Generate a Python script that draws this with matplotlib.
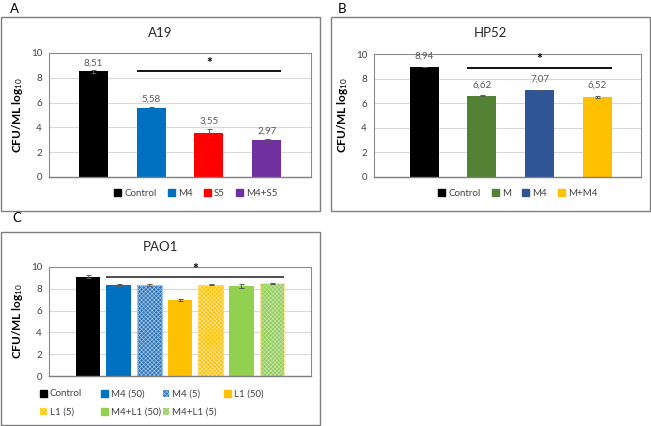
import matplotlib
matplotlib.use('Agg')
import matplotlib.pyplot as plt
from matplotlib.patches import Rectangle, Patch

plt.rcParams['font.family'] = ['Lato', 'DejaVu Sans']
plt.rcParams['mathtext.fontset'] = 'custom'
plt.rcParams['mathtext.rm'] = 'Lato'
plt.rcParams['mathtext.it'] = 'Lato:italic'
plt.rcParams['mathtext.bf'] = 'Lato:bold'
plt.rcParams['hatch.linewidth'] = 0.5

# Panel A - A19
a_labels = ['Control', 'M4', 'S5', 'M4+S5']
a_values = [8.51, 5.58, 3.55, 2.97]
a_errors = [0.10, 0.08, 0.35, 0.12]
a_colors = ['#000000', '#0070C0', '#FF0000', '#7030A0']

# Panel B - HP52
b_labels = ['Control', 'M', 'M4', 'M+M4']
b_values = [8.94, 6.62, 7.07, 6.52]
b_errors = [0.03, 0.06, 0.03, 0.10]
b_colors = ['#000000', '#548235', '#2F5597', '#FFC000']

# Panel C - PAO1
c_labels = ['Control', 'M4 (50)', 'M4 (5)', 'L1 (50)', 'L1 (5)', 'M4+L1 (50)', 'M4+L1 (5)']
c_values = [9.10, 8.38, 8.38, 6.99, 8.38, 8.25, 8.50]
c_errors = [0.15, 0.08, 0.10, 0.07, 0.03, 0.20, 0.05]
c_colors = ['#000000', '#0070C0', '#2E75B6', '#FFC000', '#FFC000', '#92D050', '#92D050']
c_hatch = [None, None, 'xxxxxxxx', None, 'xxxxxxxx', None, 'xxxxxxxx']
c_hatchcol = [None, None, '#9DC3E6', None, '#FFE699', None, '#C5E0B4']
c_border = [None, None, '#9DC3E6', None, '#FFD966', None, '#FFE699']

W, H = 651, 426
fig = plt.figure(figsize=(W / 100, H / 100), dpi=100)


def px_axes(x0, y0, x1, y1):
    return fig.add_axes([x0 / W, 1 - y1 / H, (x1 - x0) / W, (y1 - y0) / H])


def box(x0, y0, x1, y1):
    fig.patches.append(Rectangle((x0 / W, 1 - y1 / H), (x1 - x0) / W, (y1 - y0) / H,
                                 transform=fig.transFigure, fill=False,
                                 edgecolor='#7f7f7f', lw=1.0))


def style(ax):
    ax.set_ylim(0, 10)
    ax.set_yticks(range(0, 11, 2))
    ax.set_xticks([])
    ax.tick_params(axis='y', length=0, labelsize=7, labelcolor='#404040', pad=5)
    ax.grid(axis='y', color='#d9d9d9', lw=0.8)
    ax.set_axisbelow(True)
    for s in ['top', 'left', 'right']:
        ax.spines[s].set_color('#8c8c8c')
        ax.spines[s].set_linewidth(0.8)
    ax.spines['bottom'].set_color('#7f7f7f')
    ax.spines['bottom'].set_linewidth(1.0)
    ax.set_ylabel('CFU/ML log$_{10}$', fontsize=8.5, fontweight='bold', labelpad=4)


def bracket(ax, x0, x1, y, color='black'):
    ax.plot([x0, x1], [y, y], color=color, lw=1.3, solid_capstyle='butt')
    ax.text((x0 + x1) / 2, y + 0.2, '*', ha='center', va='bottom', fontsize=10,
            fontweight='bold')


def legend_item(handle, label, x, y):
    fig.legend([handle], [label], loc='center left',
               bbox_to_anchor=(x / W, 1 - y / H), bbox_transform=fig.transFigure,
               frameon=False, fontsize=7, handlelength=0.7, handleheight=0.7,
               handletextpad=0.3, borderaxespad=0, borderpad=0,
               labelcolor='#404040')


# ---- A ----
box(1, 17, 320, 211)
fig.text(10 / W, 1 - 9 / H, 'A', fontsize=9.5, va='center')
axA = px_axes(49, 53, 311, 177)
xa = list(range(len(a_values)))
axA.bar(xa, a_values, width=0.5, color=a_colors, yerr=a_errors, capsize=1.8,
        error_kw=dict(ecolor='#595959', elinewidth=0.7, capthick=0.7))
axA.set_xlim(-0.76, 3.76)
style(axA)
for x, v, e in zip(xa, a_values, a_errors):
    axA.annotate(f'{v:.2f}'.replace('.', ','), (x, v + e), xytext=(0, 2),
                 textcoords='offset points', ha='center', va='bottom',
                 fontsize=7, color='#595959')
bracket(axA, 1 - 0.25, 3 + 0.25, 8.55)
fig.text(160 / W, 1 - 33 / H, 'A19', fontsize=9.5, ha='center', va='center', color='#262626')
axA.legend([Patch(color=c) for c in a_colors], a_labels, loc='center',
           bbox_to_anchor=(196 / W, 1 - 193 / H), bbox_transform=fig.transFigure,
           ncol=4, frameon=False, fontsize=7, handlelength=0.7, handleheight=0.7,
           handletextpad=0.3, columnspacing=1.2, labelcolor='#404040')

# ---- B ----
box(331, 17, 650, 211)
fig.text(338 / W, 1 - 9 / H, 'B', fontsize=9.5, va='center')
axB = px_axes(374, 54, 641, 177)
xb = list(range(len(b_values)))
axB.bar(xb, b_values, width=0.5, color=b_colors, yerr=b_errors, capsize=1.8,
        error_kw=dict(ecolor='#595959', elinewidth=0.7, capthick=0.7))
axB.set_xlim(-0.87, 3.76)
style(axB)
for x, v, e in zip(xb, b_values, b_errors):
    axB.annotate(f'{v:.2f}'.replace('.', ','), (x, v + e), xytext=(0, 4),
                 textcoords='offset points', ha='center', va='bottom',
                 fontsize=7, color='#595959')
bracket(axB, 1 - 0.25, 3 + 0.25, 8.9)
fig.text(490 / W, 1 - 33 / H, 'HP52', fontsize=9.5, ha='center', va='center', color='#262626')
axB.legend([Patch(color=c) for c in b_colors], b_labels, loc='center',
           bbox_to_anchor=(518 / W, 1 - 193 / H), bbox_transform=fig.transFigure,
           ncol=4, frameon=False, fontsize=7, handlelength=0.7, handleheight=0.7,
           handletextpad=0.3, columnspacing=1.2, labelcolor='#404040')

# ---- C ----
box(1, 232, 320, 425)
fig.text(12 / W, 1 - 218 / H, 'C', fontsize=9.5, va='center')
axC = px_axes(49, 267, 311, 376)
xc = list(range(len(c_values)))
handles = []
for x, v, e, col, h, hc, bc in zip(xc, c_values, c_errors, c_colors, c_hatch,
                                    c_hatchcol, c_border):
    if h:
        axC.bar(x, v, width=0.8, color=col, hatch=h, edgecolor=hc, lw=0)
        axC.bar(x, v, width=0.8, fill=False, edgecolor=bc, lw=0.8)
        handles.append(Patch(facecolor=col, hatch=h, edgecolor=hc, lw=0))
    else:
        axC.bar(x, v, width=0.8, color=col)
        handles.append(Patch(color=col))
    axC.errorbar(x, v, yerr=e, fmt='none', ecolor='#595959', elinewidth=0.7,
                 capsize=1.8, capthick=0.7)
axC.set_xlim(-1.27, 7.27)
style(axC)
bracket(axC, 1 - 0.4, 6 + 0.4, 9.08, color='#404040')
fig.text(160 / W, 1 - 247 / H, 'PAO1', fontsize=9.5, ha='center', va='center', color='#262626')
for i, (hd, lb) in enumerate(zip(handles, c_labels)):
    legend_item(hd, lb, 40 + (i % 4) * 61.3, 394 + (i // 4) * 18)

fig.savefig('out.png', dpi=100)
